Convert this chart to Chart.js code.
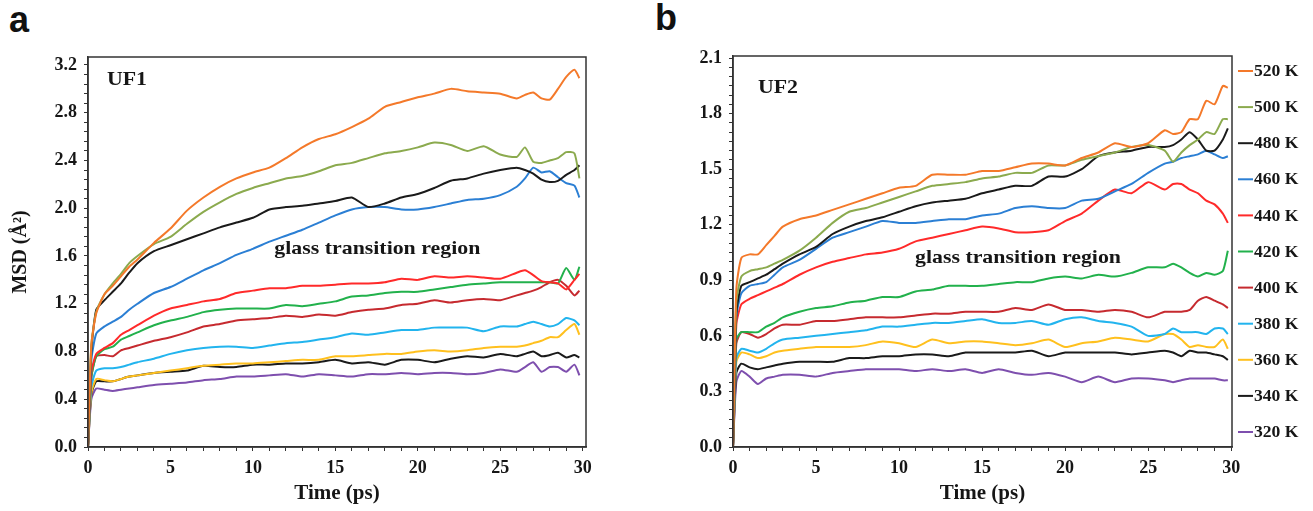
<!DOCTYPE html>
<html>
<head>
<meta charset="utf-8">
<script src="https://cdn.jsdelivr.net/npm/chart.js@4.4.1/dist/chart.umd.min.js"></script>
<style>
  body { margin: 0; background: #fff; width: 1313px; height: 511px; position: relative; overflow: hidden; }
  .panel { position: absolute; top: 0; height: 511px; }
  #wrapA { left: 0; width: 650px; }
  #wrapB { left: 650px; width: 663px; }
  .tag { position: absolute; font-family: 'Liberation Sans', Arial, sans-serif; font-weight: bold; font-size: 36px; line-height: 36px; color: #111; }
</style>
</head>
<body>
<div class="tag" style="left:9px; top:2px;">a</div>
<div class="tag" style="left:655px; top:0px;">b</div>
<div class="panel" id="wrapA"><canvas id="chartA"></canvas></div>
<div class="panel" id="wrapB"><canvas id="chartB"></canvas></div>
<script>
// Time axis (ps), shared by every curve
const time = [0, 0.2, 0.5, 1, 1.5, 2, 2.5, 3,
    4, 5, 6, 7, 8, 9, 10, 11, 12, 13, 14, 15, 16, 17, 18, 19, 20, 21, 22, 23, 24, 25, 26,
    26.5, 27, 27.5, 28, 28.5, 29, 29.5, 29.8];

const temps = ['520 K', '500 K', '480 K', '460 K', '440 K', '420 K', '400 K', '380 K', '360 K', '340 K', '320 K'];
const colors = ['#F4792A', '#8BAA4E', '#1A1A1A', '#2B7FD4', '#FF2A2A', '#22B14C', '#C62A2F', '#22B4EE', '#FFC01E', '#1A1A1A', '#7E4FAE'];

// UF1 MSD (Å²)
const a520 = [0, 0.85, 1.12, 1.28, 1.35, 1.43, 1.51, 1.57,
    1.71, 1.83, 1.98, 2.09, 2.18, 2.25, 2.30, 2.34, 2.42, 2.51, 2.58, 2.62, 2.68, 2.75, 2.85, 2.89, 2.93, 2.96, 3.00, 2.98, 2.97, 2.96, 2.92,
    2.95, 2.97, 2.92, 2.91, 3.00, 3.10, 3.16, 3.09];
const a500 = [0, 0.85, 1.13, 1.28, 1.37, 1.45, 1.54, 1.60,
    1.70, 1.76, 1.87, 1.97, 2.05, 2.12, 2.17, 2.21, 2.25, 2.27, 2.31, 2.36, 2.38, 2.42, 2.46, 2.48, 2.51, 2.55, 2.53, 2.48, 2.52, 2.45, 2.43,
    2.51, 2.39, 2.38, 2.40, 2.42, 2.47, 2.46, 2.25];
const a480 = [0, 0.80, 1.15, 1.23, 1.30, 1.37, 1.46, 1.54,
    1.64, 1.69, 1.74, 1.79, 1.84, 1.88, 1.92, 1.99, 2.01, 2.02, 2.04, 2.06, 2.09, 2.01, 2.04, 2.09, 2.12, 2.17, 2.23, 2.25, 2.29, 2.32, 2.34,
    2.32, 2.29, 2.24, 2.22, 2.23, 2.28, 2.32, 2.36];
const a460 = [0, 0.72, 0.95, 1.01, 1.05, 1.09, 1.15, 1.20,
    1.29, 1.34, 1.41, 1.48, 1.54, 1.61, 1.66, 1.72, 1.77, 1.82, 1.88, 1.94, 1.99, 2.01, 2.01, 1.99, 1.99, 2.01, 2.04, 2.07, 2.08, 2.11, 2.18,
    2.25, 2.34, 2.30, 2.31, 2.26, 2.21, 2.19, 2.09];
const a440 = [0, 0.62, 0.78, 0.83, 0.87, 0.94, 0.98, 1.02,
    1.10, 1.16, 1.19, 1.22, 1.24, 1.29, 1.31, 1.33, 1.33, 1.35, 1.35, 1.36, 1.37, 1.37, 1.38, 1.41, 1.40, 1.43, 1.42, 1.43, 1.42, 1.41, 1.46,
    1.48, 1.44, 1.39, 1.38, 1.37, 1.32, 1.40, 1.45];
const a420 = [0, 0.58, 0.76, 0.82, 0.84, 0.90, 0.93, 0.96,
    1.02, 1.06, 1.09, 1.13, 1.15, 1.16, 1.16, 1.16, 1.19, 1.18, 1.20, 1.22, 1.26, 1.27, 1.29, 1.30, 1.30, 1.32, 1.34, 1.36, 1.37, 1.38, 1.38,
    1.38, 1.38, 1.38, 1.38, 1.37, 1.50, 1.40, 1.51];
const a400 = [0, 0.58, 0.76, 0.77, 0.76, 0.81, 0.83, 0.85,
    0.89, 0.92, 0.96, 1.01, 1.03, 1.06, 1.07, 1.08, 1.10, 1.09, 1.11, 1.10, 1.13, 1.15, 1.16, 1.19, 1.20, 1.23, 1.21, 1.23, 1.24, 1.23, 1.27,
    1.29, 1.31, 1.34, 1.38, 1.40, 1.35, 1.27, 1.31];
const a380 = [0, 0.50, 0.64, 0.66, 0.66, 0.67, 0.69, 0.71,
    0.74, 0.78, 0.81, 0.83, 0.84, 0.84, 0.83, 0.85, 0.87, 0.88, 0.90, 0.92, 0.95, 0.94, 0.96, 0.98, 0.98, 1.00, 1.00, 1.00, 0.97, 1.01, 1.01,
    1.03, 1.05, 1.03, 1.01, 1.03, 1.08, 1.06, 1.02];
const a360 = [0, 0.45, 0.57, 0.56, 0.55, 0.57, 0.59, 0.60,
    0.62, 0.64, 0.66, 0.68, 0.69, 0.70, 0.70, 0.71, 0.72, 0.73, 0.73, 0.76, 0.76, 0.77, 0.78, 0.78, 0.80, 0.81, 0.80, 0.81, 0.83, 0.84, 0.84,
    0.85, 0.87, 0.89, 0.92, 0.92, 0.98, 1.03, 0.94];
const a340 = [0, 0.44, 0.55, 0.55, 0.55, 0.57, 0.59, 0.60,
    0.62, 0.63, 0.64, 0.68, 0.67, 0.67, 0.69, 0.69, 0.70, 0.70, 0.71, 0.73, 0.70, 0.71, 0.69, 0.73, 0.73, 0.71, 0.74, 0.76, 0.75, 0.78, 0.76,
    0.78, 0.80, 0.76, 0.77, 0.79, 0.75, 0.77, 0.75];
const a320 = [0, 0.40, 0.49, 0.48, 0.47, 0.48, 0.49, 0.50,
    0.52, 0.53, 0.54, 0.56, 0.57, 0.59, 0.59, 0.60, 0.61, 0.59, 0.61, 0.60, 0.59, 0.61, 0.61, 0.62, 0.61, 0.62, 0.62, 0.61, 0.62, 0.65, 0.63,
    0.67, 0.71, 0.63, 0.67, 0.67, 0.63, 0.69, 0.60];

// UF2 MSD (Å²)
const b520 = [0, 0.85, 1.02, 1.04, 1.04, 1.09, 1.14, 1.19,
    1.23, 1.25, 1.28, 1.31, 1.34, 1.37, 1.40, 1.41, 1.47, 1.47, 1.47, 1.49, 1.49, 1.51, 1.53, 1.53, 1.52, 1.56, 1.59, 1.64, 1.62, 1.64, 1.71,
    1.69, 1.70, 1.77, 1.77, 1.87, 1.85, 1.95, 1.94];
const b500 = [0, 0.78, 0.92, 0.95, 0.96, 0.97, 0.99, 1.01,
    1.06, 1.13, 1.21, 1.27, 1.29, 1.32, 1.35, 1.38, 1.41, 1.42, 1.43, 1.45, 1.46, 1.48, 1.48, 1.52, 1.52, 1.55, 1.57, 1.59, 1.62, 1.63, 1.60,
    1.54, 1.59, 1.63, 1.66, 1.70, 1.69, 1.77, 1.77];
const b480 = [0, 0.72, 0.87, 0.89, 0.91, 0.93, 0.96, 0.99,
    1.04, 1.08, 1.15, 1.19, 1.22, 1.24, 1.27, 1.30, 1.32, 1.33, 1.34, 1.37, 1.39, 1.41, 1.41, 1.46, 1.46, 1.50, 1.57, 1.59, 1.60, 1.62, 1.62,
    1.63, 1.66, 1.70, 1.66, 1.60, 1.60, 1.66, 1.72];
const b460 = [0, 0.70, 0.83, 0.87, 0.88, 0.89, 0.93, 0.97,
    1.01, 1.07, 1.13, 1.16, 1.19, 1.22, 1.21, 1.21, 1.22, 1.23, 1.23, 1.25, 1.26, 1.29, 1.30, 1.29, 1.29, 1.33, 1.34, 1.38, 1.42, 1.48, 1.53,
    1.54, 1.56, 1.57, 1.58, 1.60, 1.58, 1.56, 1.57];
const b440 = [0, 0.66, 0.77, 0.80, 0.82, 0.84, 0.86, 0.88,
    0.93, 0.97, 1.00, 1.02, 1.04, 1.05, 1.07, 1.11, 1.13, 1.15, 1.17, 1.19, 1.18, 1.16, 1.16, 1.17, 1.22, 1.26, 1.33, 1.39, 1.37, 1.43, 1.39,
    1.42, 1.42, 1.39, 1.37, 1.33, 1.31, 1.26, 1.21];
const b420 = [0, 0.58, 0.62, 0.62, 0.62, 0.65, 0.67, 0.70,
    0.73, 0.75, 0.76, 0.78, 0.79, 0.81, 0.81, 0.84, 0.85, 0.87, 0.87, 0.87, 0.88, 0.89, 0.89, 0.91, 0.92, 0.91, 0.93, 0.92, 0.94, 0.97, 0.97,
    0.99, 0.97, 0.94, 0.92, 0.94, 0.93, 0.95, 1.06];
const b400 = [0, 0.56, 0.62, 0.61, 0.59, 0.61, 0.64, 0.66,
    0.66, 0.68, 0.68, 0.69, 0.70, 0.70, 0.70, 0.71, 0.72, 0.72, 0.73, 0.73, 0.73, 0.75, 0.74, 0.77, 0.74, 0.74, 0.73, 0.74, 0.73, 0.70, 0.73,
    0.73, 0.73, 0.74, 0.79, 0.81, 0.79, 0.77, 0.75];
const b380 = [0, 0.48, 0.53, 0.52, 0.51, 0.53, 0.56, 0.58,
    0.59, 0.60, 0.61, 0.62, 0.63, 0.65, 0.65, 0.66, 0.67, 0.67, 0.68, 0.69, 0.67, 0.67, 0.68, 0.66, 0.69, 0.70, 0.68, 0.67, 0.65, 0.60, 0.61,
    0.64, 0.62, 0.62, 0.62, 0.61, 0.64, 0.64, 0.61];
const b360 = [0, 0.46, 0.51, 0.50, 0.48, 0.49, 0.51, 0.52,
    0.53, 0.54, 0.54, 0.54, 0.55, 0.57, 0.56, 0.54, 0.58, 0.56, 0.57, 0.57, 0.56, 0.55, 0.56, 0.58, 0.54, 0.56, 0.57, 0.59, 0.58, 0.57, 0.61,
    0.61, 0.58, 0.54, 0.55, 0.54, 0.54, 0.58, 0.53];
const b340 = [0, 0.40, 0.45, 0.43, 0.42, 0.43, 0.44, 0.45,
    0.46, 0.46, 0.46, 0.48, 0.48, 0.49, 0.49, 0.50, 0.50, 0.49, 0.51, 0.51, 0.51, 0.51, 0.52, 0.49, 0.51, 0.51, 0.51, 0.51, 0.50, 0.51, 0.52,
    0.51, 0.49, 0.52, 0.51, 0.51, 0.50, 0.49, 0.47];
const b320 = [0, 0.35, 0.41, 0.38, 0.34, 0.37, 0.38, 0.39,
    0.39, 0.38, 0.40, 0.41, 0.42, 0.42, 0.42, 0.41, 0.42, 0.41, 0.42, 0.40, 0.42, 0.40, 0.39, 0.40, 0.38, 0.35, 0.38, 0.35, 0.37, 0.37, 0.36,
    0.35, 0.36, 0.37, 0.37, 0.37, 0.37, 0.36, 0.36];

const seriesA = [a520, a500, a480, a460, a440, a420, a400, a380, a360, a340, a320];
const seriesB = [b520, b500, b480, b460, b440, b420, b400, b380, b360, b340, b320];

// Axis ticks
const xTicks = Array.from({ length: 31 }, (_, i) => i);
const yLabelsA = ['0.0', '0.4', '0.8', '1.2', '1.6', '2.0', '2.4', '2.8', '3.2'];
const yLabelsB = ['0.0', '0.3', '0.6', '0.9', '1.2', '1.5', '1.8', '2.1'];

const serif = "'Liberation Serif', 'Times New Roman', serif";
const ink = '#161616';

function buildDatasets(series) {
    return series.map((vals, k) => ({
        label: temps[k],
        data: time.map((t, i) => ({ x: t, y: vals[i] })),
        borderColor: colors[k],
        backgroundColor: colors[k],
        borderWidth: 2,
        pointRadius: 0,
        tension: 0.2,
        fill: false
    }));
}

// minor ticks: `sub` steps between labelled values
function yTickList(labels, sub) {
    const step = (parseFloat(labels[1]) - parseFloat(labels[0])) / sub;
    const n = (labels.length - 1) * sub;
    const out = [];
    for (let i = 0; i <= n; i++) out.push({ value: +(i * step).toFixed(4) });
    return out;
}

// stretched text, the original figure is a bit wider than tall
function stretchText(ctx, text, x, y, sx) {
    ctx.save();
    ctx.translate(x, y);
    ctx.scale(sx, 1);
    ctx.fillText(text, 0, 0);
    ctx.restore();
}

const framePlugin = {
    id: 'frame',
    afterDraw(chart) {
        const { ctx, chartArea: a } = chart;
        ctx.save();
        ctx.strokeStyle = '#333';
        ctx.lineWidth = 1.5;
        ctx.strokeRect(a.left, a.top, a.right - a.left, a.bottom - a.top);
        ctx.restore();
    }
};

const notesPlugin = {
    id: 'notes',
    afterDraw(chart, args, opts) {
        const { ctx, scales } = chart;
        ctx.save();
        ctx.fillStyle = ink;
        ctx.textBaseline = 'middle';
        ctx.textAlign = 'left';
        (opts.items || []).forEach(n => {
            ctx.font = 'bold ' + n.size + 'px ' + serif;
            stretchText(ctx, n.text, scales.x.getPixelForValue(n.x), scales.y.getPixelForValue(n.y), 1.15);
        });
        ctx.restore();
    }
};

const sideLegend = {
    id: 'sideLegend',
    afterDraw(chart, args, opts) {
        if (!opts.show) return;
        const { ctx, chartArea: a } = chart;
        const ds = chart.data.datasets;
        const gap = (opts.last - opts.first) / (ds.length - 1);
        ctx.save();
        ctx.font = 'bold 16px ' + serif;
        ctx.textBaseline = 'middle';
        ctx.fillStyle = ink;
        ds.forEach((d, i) => {
            const y = opts.first + i * gap;
            ctx.strokeStyle = d.borderColor;
            ctx.lineWidth = 2;
            ctx.beginPath();
            ctx.moveTo(a.right + 6, y);
            ctx.lineTo(a.right + 21, y);
            ctx.stroke();
            stretchText(ctx, d.label, a.right + 22, y + 1, 1.1);
        });
        ctx.restore();
    }
};

function makeChart(id, series, cfg) {
    const ticksY = yTickList(cfg.yLabels, cfg.sub);
    return new Chart(document.getElementById(id), {
        type: 'line',
        data: { datasets: buildDatasets(series) },
        plugins: [framePlugin, notesPlugin, sideLegend],
        options: {
            responsive: true,
            maintainAspectRatio: false,
            animation: false,
            layout: { padding: { top: cfg.top, right: cfg.right, left: 0, bottom: 0 } },
            plugins: {
                legend: { display: false },
                tooltip: { enabled: false },
                notes: { items: cfg.notes },
                sideLegend: { show: cfg.legend, first: 71, last: 432 }
            },
            scales: {
                x: {
                    type: 'linear',
                    min: 0,
                    max: cfg.xMax,
                    afterBuildTicks: s => { s.ticks = xTicks.map(v => ({ value: v })); },
                    afterFit: s => { s.height = 511 - cfg.bottom; },
                    grid: { drawOnChartArea: false, drawTicks: true, tickLength: 4, color: '#333', lineWidth: 1 },
                    border: { display: true, color: '#333', width: 1.5 },
                    ticks: {
                        autoSkip: false, maxRotation: 0, padding: 7, color: ink,
                        font: { family: serif, weight: 'bold', size: 18 },
                        callback: v => (v % 5 === 0 ? String(v) : '')
                    },
                    title: {
                        display: true, text: 'Time (ps)', color: ink,
                        font: { family: serif, weight: 'bold', size: 21 },
                        padding: { top: 0, bottom: 5 }
                    }
                },
                y: {
                    type: 'linear',
                    min: 0,
                    max: cfg.yMax,
                    afterBuildTicks: s => { s.ticks = ticksY.map(t => ({ value: t.value })); },
                    afterFit: s => { s.width = cfg.left; },
                    grid: { drawOnChartArea: false, drawTicks: true, tickLength: 4, color: '#333', lineWidth: 1 },
                    border: { display: true, color: '#333', width: 1.5 },
                    ticks: {
                        autoSkip: false, padding: 7, color: ink,
                        font: { family: serif, weight: 'bold', size: 18 },
                        callback: (v, i) => (i % cfg.sub === 0 ? cfg.yLabels[i / cfg.sub] : '')
                    },
                    title: {
                        display: cfg.yTitle !== '', text: cfg.yTitle, color: ink,
                        font: { family: serif, weight: 'bold', size: 20 },
                        padding: { top: 9, bottom: 0 }
                    }
                }
            }
        }
    });
}

makeChart('chartA', seriesA, {
    top: 57, bottom: 447, left: 88, right: 64,
    xMax: 30.2, yMax: 3.267, yLabels: yLabelsA, sub: 5,
    yTitle: 'MSD (Å²)', legend: false,
    notes: [
        { text: 'UF1', x: 1.15, y: 3.07, size: 19 },
        { text: 'glass transition region', x: 11.3, y: 1.66, size: 19 }
    ]
});

makeChart('chartB', seriesB, {
    top: 56, bottom: 447, left: 83, right: 81,
    xMax: 30.05, yMax: 2.111, yLabels: yLabelsB, sub: 6,
    yTitle: '', legend: true,
    notes: [
        { text: 'UF2', x: 1.5, y: 1.94, size: 19 },
        { text: 'glass transition region', x: 10.96, y: 1.02, size: 19 }
    ]
});
</script>
</body>
</html>
